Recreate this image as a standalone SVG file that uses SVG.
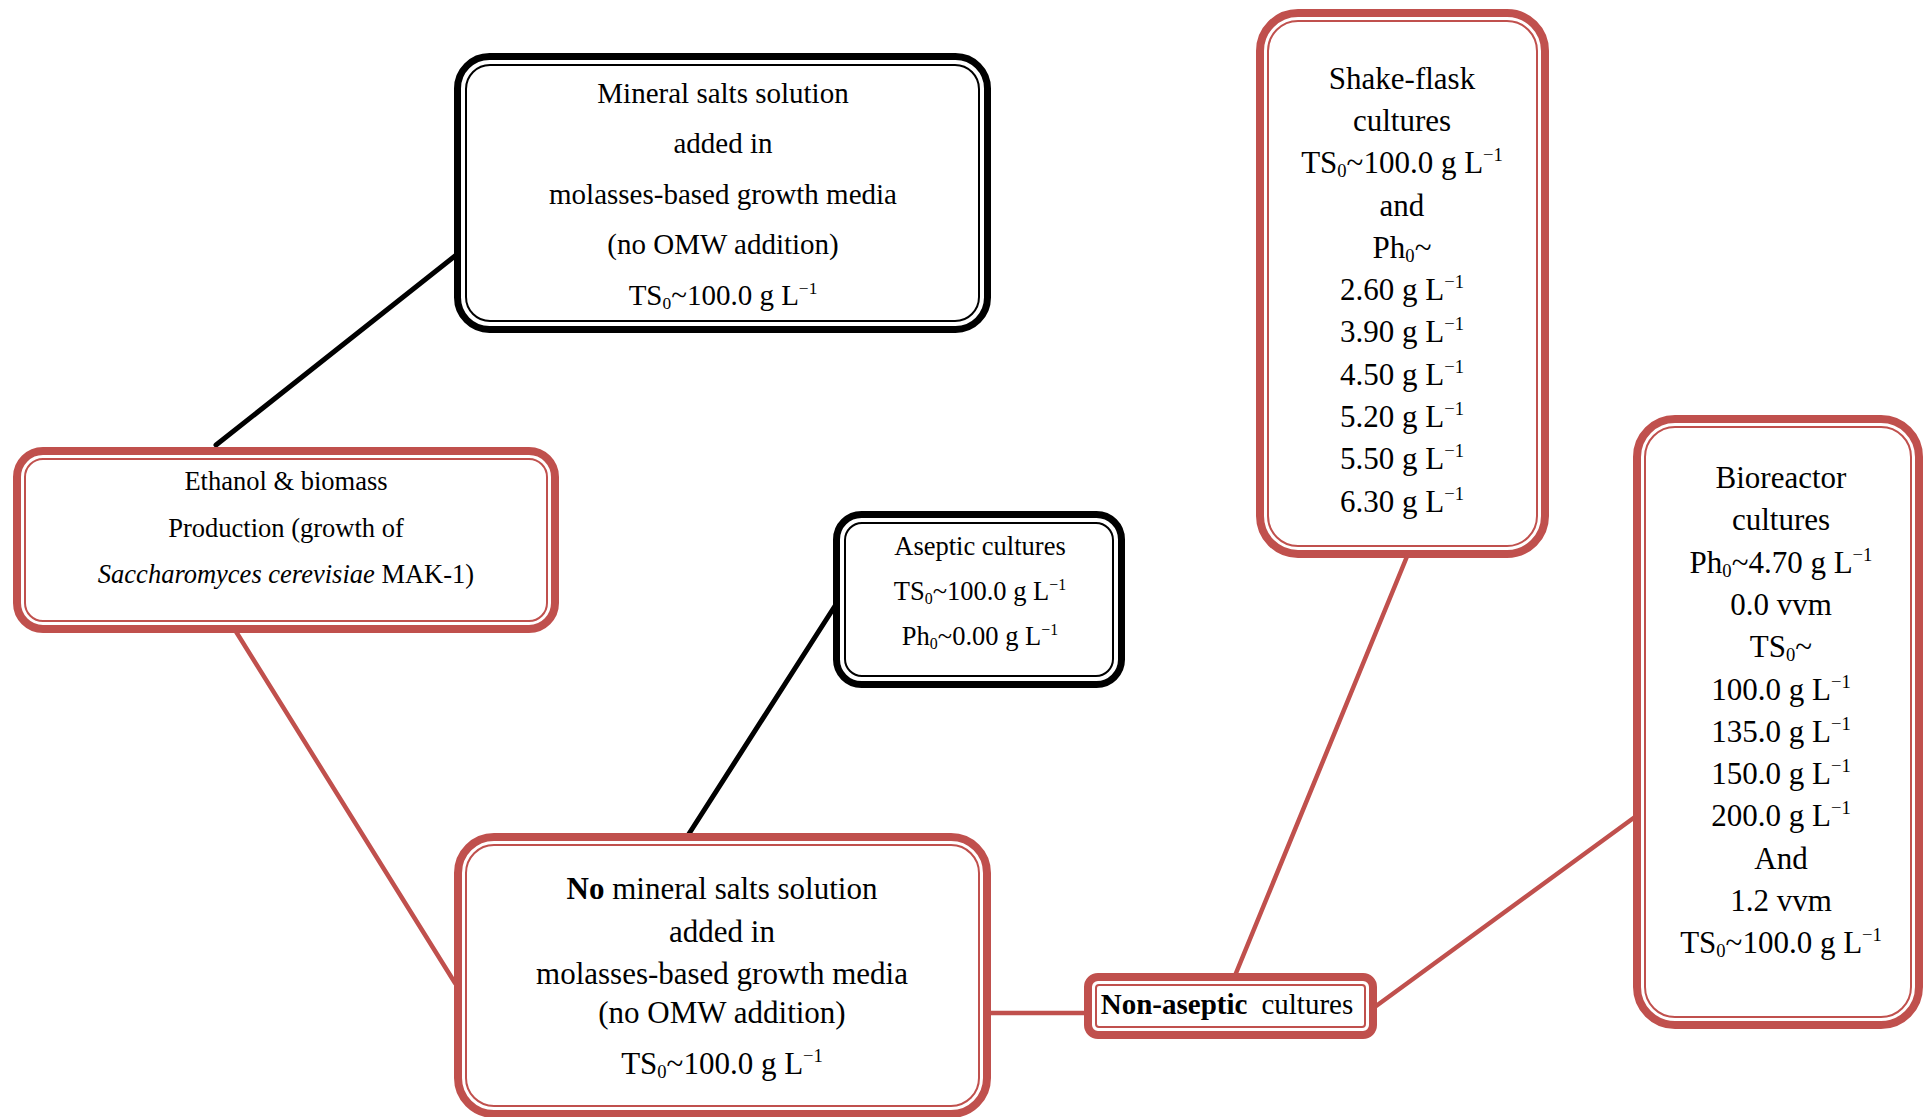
<svg xmlns="http://www.w3.org/2000/svg" width="1926" height="1117" viewBox="0 0 1926 1117">
<style>
.ob{fill:#fff;stroke:#000;stroke-width:7}
.ib{fill:none;stroke:#000;stroke-width:2}
.or{fill:#fff;stroke:#C0504D;stroke-width:8}
.ir{fill:none;stroke:#C0504D;stroke-width:2}
text{font-family:"Liberation Serif","Times New Roman",serif;fill:#000;text-anchor:middle}
.f29{font-size:29px}
.f26{font-size:26.5px}
.f31{font-size:31px}
.lk{stroke:#000;stroke-width:5;stroke-linecap:round;fill:none}
.lr{stroke:#C0504D;stroke-width:4.5;stroke-linecap:round;fill:none}
.sub{font-size:60%}
</style>
<rect width="1926" height="1117" fill="#fff"/>
<g id="connectors">
<line class="lk" x1="460" y1="252" x2="216" y2="445"/>
<line class="lr" x1="235" y1="630" x2="455" y2="983"/>
<line class="lk" x1="842" y1="595" x2="685" y2="840"/>
<line class="lr" x1="990" y1="1013" x2="1086" y2="1013"/>
<line class="lr" x1="1408" y1="554" x2="1234" y2="978"/>
<line class="lr" x1="1372" y1="1009" x2="1639" y2="814"/>
</g>
<g id="node-mineral">
<rect class="ob" x="457.5" y="56.5" width="530" height="273" rx="32"/>
<rect class="ib" x="466" y="65" width="513" height="256" rx="24"/>
<text class="f29" x="723" y="103">Mineral salts solution</text>
<text class="f29" x="723" y="153">added in</text>
<text class="f29" x="723" y="204">molasses-based growth media</text>
<text class="f29" x="723" y="254">(no OMW addition)</text>
<text class="f29" x="723" y="305">TS<tspan class="sub" dy="4">0</tspan><tspan dy="-4">~100.0 g L</tspan><tspan class="sub" dy="-11">−1</tspan></text>
</g>
<g id="node-ethanol">
<rect class="or" x="17" y="451" width="538" height="178" rx="26"/>
<rect class="ir" x="25" y="459" width="522" height="162" rx="18"/>
<text class="f26" x="286" y="490">Ethanol &amp; biomass</text>
<text class="f26" x="286" y="537">Production (growth of</text>
<text class="f26" x="286" y="583"><tspan font-style="italic">Saccharomyces cerevisiae</tspan> MAK-1)</text>
</g>
<g id="node-aseptic">
<rect class="ob" x="836.5" y="514.5" width="285" height="170" rx="25"/>
<rect class="ib" x="845" y="523" width="268" height="153" rx="17"/>
<text class="f26" x="980" y="555">Aseptic cultures</text>
<text class="f26" x="980" y="600">TS<tspan class="sub" dy="4">0</tspan><tspan dy="-4">~100.0 g L</tspan><tspan class="sub" dy="-10">−1</tspan></text>
<text class="f26" x="980" y="645">Ph<tspan class="sub" dy="4">0</tspan><tspan dy="-4">~0.00 g L</tspan><tspan class="sub" dy="-10">−1</tspan></text>
</g>
<g id="node-shake">
<rect class="or" x="1260" y="13" width="285" height="541" rx="38"/>
<rect class="ir" x="1268" y="21" width="269" height="525" rx="30"/>
<text class="f31" x="1402" y="89">Shake-flask</text>
<text class="f31" x="1402" y="131">cultures</text>
<text class="f31" x="1402" y="173">TS<tspan class="sub" dy="4">0</tspan><tspan dy="-4">~100.0 g L</tspan><tspan class="sub" dy="-12">−1</tspan></text>
<text class="f31" x="1402" y="216">and</text>
<text class="f31" x="1402" y="258">Ph<tspan class="sub" dy="4">0</tspan><tspan dy="-4">~</tspan></text>
<text class="f31" x="1402" y="300">2.60 g L<tspan class="sub" dy="-12">−1</tspan></text>
<text class="f31" x="1402" y="342">3.90 g L<tspan class="sub" dy="-12">−1</tspan></text>
<text class="f31" x="1402" y="385">4.50 g L<tspan class="sub" dy="-12">−1</tspan></text>
<text class="f31" x="1402" y="427">5.20 g L<tspan class="sub" dy="-12">−1</tspan></text>
<text class="f31" x="1402" y="469">5.50 g L<tspan class="sub" dy="-12">−1</tspan></text>
<text class="f31" x="1402" y="512">6.30 g L<tspan class="sub" dy="-12">−1</tspan></text>
</g>
<g id="node-bioreactor">
<rect class="or" x="1637" y="419" width="282" height="606" rx="38"/>
<rect class="ir" x="1645" y="427" width="266" height="590" rx="30"/>
<text class="f31" x="1781" y="488">Bioreactor</text>
<text class="f31" x="1781" y="530">cultures</text>
<text class="f31" x="1781" y="573">Ph<tspan class="sub" dy="4">0</tspan><tspan dy="-4">~4.70 g L</tspan><tspan class="sub" dy="-12">−1</tspan></text>
<text class="f31" x="1781" y="615">0.0 vvm</text>
<text class="f31" x="1781" y="657">TS<tspan class="sub" dy="4">0</tspan><tspan dy="-4">~</tspan></text>
<text class="f31" x="1781" y="700">100.0 g L<tspan class="sub" dy="-12">−1</tspan></text>
<text class="f31" x="1781" y="742">135.0 g L<tspan class="sub" dy="-12">−1</tspan></text>
<text class="f31" x="1781" y="784">150.0 g L<tspan class="sub" dy="-12">−1</tspan></text>
<text class="f31" x="1781" y="826">200.0 g L<tspan class="sub" dy="-12">−1</tspan></text>
<text class="f31" x="1781" y="869">And</text>
<text class="f31" x="1781" y="911">1.2 vvm</text>
<text class="f31" x="1781" y="953">TS<tspan class="sub" dy="4">0</tspan><tspan dy="-4">~100.0 g L</tspan><tspan class="sub" dy="-12">−1</tspan></text>
</g>
<g id="node-nomineral">
<rect class="or" x="458" y="837" width="529" height="277" rx="36"/>
<rect class="ir" x="466" y="845" width="513" height="261" rx="28"/>
<text class="f31" x="722" y="899"><tspan font-weight="bold">No</tspan> mineral salts solution</text>
<text class="f31" x="722" y="942">added in</text>
<text class="f31" x="722" y="984">molasses-based growth media</text>
<text class="f31" x="722" y="1023">(no OMW addition)</text>
<text class="f31" x="722" y="1074">TS<tspan class="sub" dy="4">0</tspan><tspan dy="-4">~100.0 g L</tspan><tspan class="sub" dy="-12">−1</tspan></text>
</g>
<g id="node-nonaseptic">
<rect class="or" x="1088" y="977" width="285" height="58" rx="10"/>
<rect class="ir" x="1096" y="985" width="269" height="42" rx="3"/>
<text class="f29" x="1227" y="1014"><tspan font-weight="bold">Non-aseptic</tspan><tspan dx="14">cultures</tspan></text>
</g>
</svg>
